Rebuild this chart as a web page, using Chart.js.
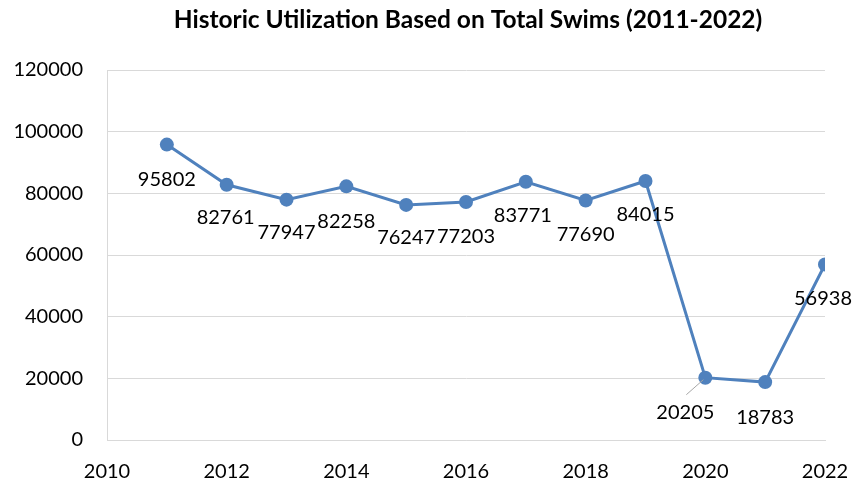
<!DOCTYPE html>
<html>
<head>
<meta charset="utf-8">
<script src="https://cdn.jsdelivr.net/npm/chart.js@4"></script>
<style>
  html, body { margin: 0; padding: 0; background: #fff; }
  #wrap { width: 854px; height: 484px; }
</style>
</head>
<body>
<div id="wrap"><canvas id="swimChart" width="854" height="484"></canvas></div>
<script>
// 연도별 총 이용(수영) 횟수
const years = [2011, 2012, 2013, 2014, 2015, 2016, 2017, 2018, 2019, 2020, 2021, 2022];
const swims = [95802, 82761, 77947, 82258, 76247, 77203, 83771, 77690, 84015, 20205, 18783, 56938];
const yTicks = [0, 20000, 40000, 60000, 80000, 100000, 120000];
const xTicks = [2010, 2012, 2014, 2016, 2018, 2020, 2022];

// 라벨 위치 보정 (점 기준 dx, dy)
const labelShift = [[0, 35], [-1, 33], [0, 33], [0, 35], [0, 33], [0, 35], [-3, 34], [0, 34], [0, 34], [-20, 35], [0, 35], [-2, 34]];

const titleText = 'Historic Utilization Based on Total Swims (2011-2022)';
const lineColor = '#4f81bd';
const gridColor = '#d9d9d9';
const font = 'Lato, "Noto Sans", sans-serif';

// 제목 + 데이터 라벨 그리기
const labelPlugin = {
    id: 'labelPlugin',
    afterDatasetsDraw(chart) {
        const ctx = chart.ctx;
        const area = chart.chartArea;
        const meta = chart.getDatasetMeta(0);
        ctx.save();
        ctx.fillStyle = '#000';
        ctx.textAlign = 'center';
        ctx.textBaseline = 'middle';
        ctx.font = 'bold 24.5px ' + font;
        ctx.fillText(titleText, (area.left + area.right) / 2 + 2, 20);

        ctx.font = '20px ' + font;
        meta.data.forEach((pt, i) => {
            const [dx, dy] = labelShift[i];
            // 2020 라벨은 지시선 추가
            if (i === 9) {
                ctx.strokeStyle = '#a6a6a6';
                ctx.lineWidth = 1;
                ctx.beginPath();
                ctx.moveTo(pt.x - 2, pt.y + 2);
                ctx.lineTo(pt.x - 19, pt.y + 17);
                ctx.stroke();
            }
            ctx.fillText(String(swims[i]), pt.x + dx, pt.y + dy);
        });
        ctx.restore();
    }
};

const ctx = document.getElementById('swimChart').getContext('2d');
new Chart(ctx, {
    type: 'line',
    data: {
        datasets: [{
            data: years.map((y, i) => ({ x: y, y: swims[i] })),
            borderColor: lineColor,
            backgroundColor: lineColor,
            borderWidth: 3,
            pointRadius: 7,
            pointBackgroundColor: lineColor,
            pointBorderColor: lineColor,
            pointBorderWidth: 0,
            tension: 0
        }]
    },
    options: {
        responsive: false,
        animation: false,
        devicePixelRatio: 1,
        layout: { padding: { top: 70, right: 29, left: 10, bottom: 0 } },
        plugins: {
            legend: { display: false },
            title: { display: false },
            tooltip: { enabled: false }
        },
        scales: {
            x: {
                type: 'linear',
                min: 2010,
                max: 2022,
                afterBuildTicks: (scale) => { scale.ticks = xTicks.map(v => ({ value: v })); },
                afterFit: (scale) => {
                    scale.height = 44;
                    scale.paddingLeft = 0;
                    scale.paddingRight = 0;
                },
                ticks: {
                    callback: (v) => String(v),
                    color: '#000',
                    font: { family: font, size: 20 },
                    padding: 12,
                    maxRotation: 0
                },
                grid: { display: false },
                border: { display: true, color: gridColor, width: 1 }
            },
            y: {
                min: 0,
                max: 120000,
                afterBuildTicks: (scale) => { scale.ticks = yTicks.map(v => ({ value: v })); },
                afterFit: (scale) => { scale.width = 97; },
                ticks: {
                    callback: (v) => String(v),
                    color: '#000',
                    font: { family: font, size: 20 },
                    padding: 24
                },
                grid: { color: gridColor, lineWidth: 1, drawTicks: false },
                border: { display: true, color: gridColor, width: 1 }
            }
        }
    },
    plugins: [labelPlugin]
});
</script>
</body>
</html>
